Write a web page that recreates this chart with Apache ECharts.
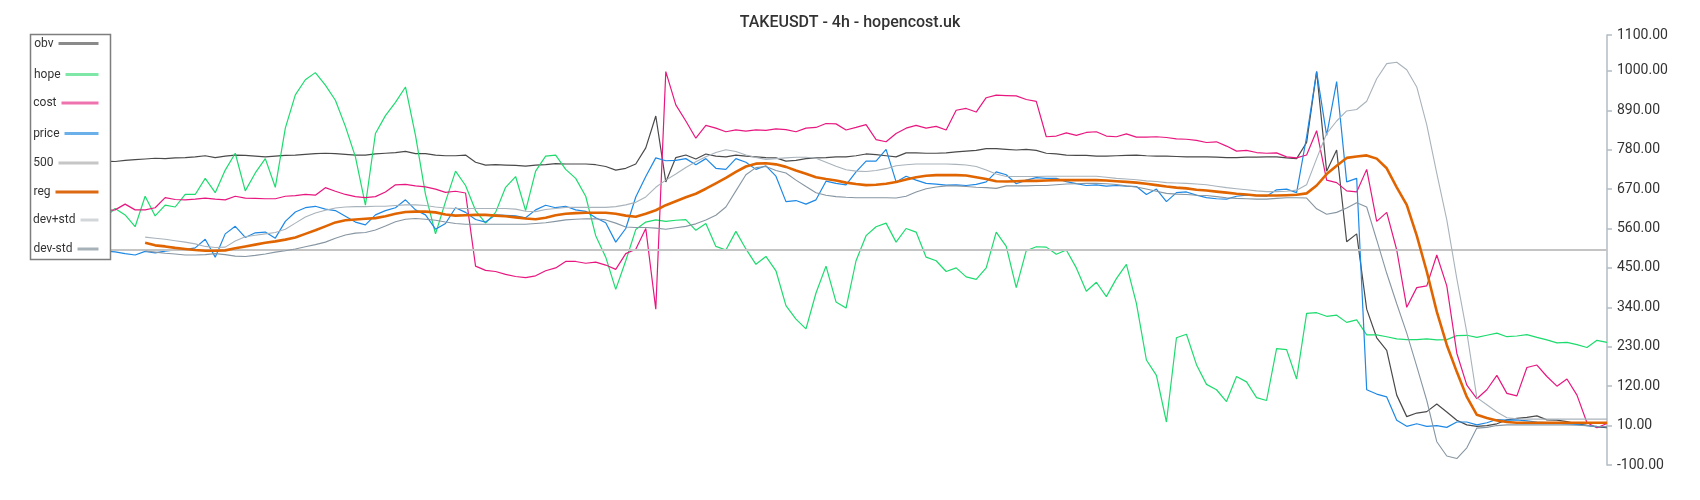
<!DOCTYPE html>
<html><head><meta charset="utf-8">
<script src="https://cdn.jsdelivr.net/npm/echarts@6/dist/echarts.min.js"></script>
<style>html,body{margin:0;padding:0;background:#fff;}#chart{width:1700px;height:500px;}</style>
</head><body><div id="chart"></div>
<script>
// ---------------- data ----------------
const chartTitle = 'TAKEUSDT - 4h - hopencost.uk';
const seriesNames = ['obv', 'hope', 'cost', 'price', '500', 'reg', 'dev+std', 'dev-std'];
const yTicks = { min: -100, max: 1100, interval: 110 };
const level500 = 500;

const obv = [745,748,744,746,750,747,745,748,
747,750,752,754,756,755,757,758,760,763,758,762,
765,764,762,760,762,764,765,767,769,770,769,767,765,765,768,770,772,775,769,769,
765,763,763,765,745,737,738,737,736,734,737,738,741,740,740,740,738,733,723,728,
740,785,874,690,758,765,754,768,762,760,765,762,760,758,757,748,750,755,757,758,
760,760,763,768,766,763,760,771,771,770,770,771,774,776,778,783,783,781,779,781,
778,770,768,765,764,764,762,762,763,764,765,763,762,762,761,760,760,760,759,758,
758,759,759,760,760,757,755,800,998,720,779,523,545,335,255,220,95,35,45,49,
70,48,25,12,8,10,15,26,30,33,37,26,25,21,15,11,6,4];

const hope = [600,590,610,605,595,620,600,590,
616,598,565,650,595,625,620,655,655,700,660,723,
770,665,715,755,675,840,933,975,995,960,918,845,760,625,825,875,912,955,820,655,
545,635,720,680,610,575,605,675,705,610,720,762,765,725,700,650,540,480,390,470,
557,578,584,580,583,585,555,574,510,500,552,503,460,482,442,345,307,280,380,455,
355,338,470,540,565,575,522,560,550,480,470,440,450,425,418,450,550,510,395,498,
509,508,488,500,450,385,410,370,420,460,351,193,150,20,255,265,180,125,110,77,
147,132,88,80,225,222,140,323,325,315,318,298,305,263,263,258,252,250,250,252,
249,250,261,262,256,262,268,258,260,264,256,249,241,242,236,228,248,242];

const cost = [605,615,600,620,610,600,615,610,
612,628,612,612,618,646,641,640,642,645,642,640,
650,645,644,643,643,650,652,655,653,674,664,655,649,646,649,662,682,683,679,676,
670,661,664,659,455,443,440,432,426,423,428,442,450,468,468,463,466,458,446,490,
502,560,335,998,905,860,812,848,840,830,835,832,835,834,838,836,830,840,842,853,
852,835,842,850,808,802,825,840,848,840,845,835,890,895,885,925,932,931,930,920,
915,816,818,827,820,828,830,818,816,824,815,815,816,814,810,809,806,800,802,790,
776,778,772,770,771,760,757,765,833,695,688,665,662,725,580,605,500,340,395,400,
486,400,212,123,85,110,150,100,93,172,179,147,120,140,95,18,4,16];

const price = [495,500,492,498,503,495,490,497,
495,490,486,496,492,497,500,501,506,530,480,545,
566,535,548,550,533,580,606,618,622,614,610,594,578,570,598,610,618,640,612,598,
558,574,618,605,585,578,598,597,595,590,612,625,618,622,612,608,590,576,522,560,
648,705,757,749,750,755,738,755,728,725,755,745,725,735,706,635,638,628,640,692,
686,682,718,748,748,781,690,706,695,686,684,681,682,680,683,690,718,710,685,695,
702,700,700,691,685,680,682,678,680,678,677,655,670,635,660,662,653,646,643,642,
650,653,652,650,668,670,660,816,998,820,970,690,700,110,98,90,25,8,15,8,
10,5,20,20,12,18,27,25,26,23,20,18,17,15,13,10,7,7];

const reg = [null,null,null,null,null,null,null,null,null,null,null,
520,513,510,506,503,500,498,498,499,
505,510,515,520,524,529,535,545,555,566,577,583,585,587,589,594,601,606,607,607,
605,599,596,597,598,598,596,594,591,588,586,590,597,601,603,604,604,604,601,596,
593,601,611,625,636,647,657,671,686,701,718,733,741,742,739,732,722,713,703,698,
694,688,684,681,682,685,690,697,703,707,709,709,709,708,703,698,692,691,692,693,
693,694,695,695,695,695,695,694,692,690,688,685,681,677,674,672,668,666,663,660,
657,655,652,652,652,653,654,658,680,712,735,757,761,764,755,728,675,626,540,440,
328,235,160,90,40,31,24,20,18,18,18,18,18,18,18,18,18,18];

const devPlus = [null,null,null,null,null,null,null,null,null,null,null,
536,533,530,526,522,517,510,507,508,
525,537,541,545,549,558,575,592,603,611,617,620,621,621,622,622,624,626,626,624,
620,617,616,616,616,616,616,616,614,608,607,613,616,619,619,619,619,619,621,626,
633,648,675,695,712,730,746,760,772,780,775,765,758,753,755,757,759,759,756,745,
734,724,720,719,722,727,735,738,740,740,740,740,739,737,733,723,712,705,705,705,
705,706,706,706,706,706,706,703,700,698,696,693,691,688,687,686,684,682,678,674,
671,668,665,663,663,664,667,682,755,825,860,888,892,915,978,1020,1024,1003,955,849,
714,584,420,270,88,68,48,32,29,28,28,28,28,28,28,28,28,28];

const devMinus = [null,null,null,null,null,null,null,null,null,null,null,
497,494,491,489,486,486,487,490,487,
483,482,485,489,494,498,503,509,515,522,533,542,547,549,556,567,579,586,588,586,
583,578,574,572,572,572,572,572,572,572,574,576,580,584,586,587,587,584,575,564,
563,563,561,558,562,566,573,584,597,620,665,710,730,733,722,715,695,677,660,653,
649,647,646,646,646,646,645,650,662,671,676,679,679,677,675,674,672,679,679,679,
680,680,682,684,685,686,686,685,683,679,676,670,664,658,656,655,653,652,649,646,
644,643,642,642,644,646,646,645,615,600,605,617,632,620,528,435,350,268,175,80,
-35,-75,-82,-52,3,5,10,12,12,12,12,12,12,12,11,10,8,7];

const categories = obv.map((_, i) => String(i + 1));
const line500 = categories.map(() => level500);

// ---------------- styling ----------------
const FONT = 'Roboto, "Noto Sans", sans-serif';
const lineColors = {
  'obv': '#4a4a4a', 'hope': '#1ddb6e', 'cost': '#e8177f', 'price': '#1e88e5',
  '500': '#c4c4c4', 'reg': '#e06500', 'dev+std': '#a9b3bb', 'dev-std': '#8796a2'
};
const lineWidths = {
  'obv': 1.2, 'hope': 1.2, 'cost': 1.2, 'price': 1.2,
  '500': 2, 'reg': 2.6, 'dev+std': 1.1, 'dev-std': 1.1
};
const legendLayout = [
  { name: 'obv',     cy: 44.5,  w: 40, color: '#8a8a8a' },
  { name: 'hope',    cy: 75.5,  w: 33, color: '#7fe8a9' },
  { name: 'cost',    cy: 104,   w: 37, color: '#ee72ae' },
  { name: 'price',   cy: 134.5, w: 34, color: '#6cb0ea' },
  { name: '500',     cy: 164,   w: 40, color: '#c6c6c6' },
  { name: 'reg',     cy: 193,   w: 43, color: '#dd6a12' },
  { name: 'dev+std', cy: 221,   w: 18, color: '#d2d6d9' },
  { name: 'dev-std', cy: 250,   w: 21, color: '#a7b1b8' }
];

const dataByName = {
  'obv': obv, 'hope': hope, 'cost': cost, 'price': price, '500': line500,
  'reg': reg, 'dev+std': devPlus, 'dev-std': devMinus
};

const series = seriesNames.map(n => ({
  name: n,
  type: 'line',
  data: dataByName[n],
  symbol: 'none',
  showSymbol: false,
  smooth: false,
  connectNulls: false,
  animation: false,
  lineStyle: { color: lineColors[n], width: lineWidths[n] },
  itemStyle: { color: lineColors[n] },
  emphasis: { disabled: true }
}));

const legends = legendLayout.map(l => ({
  data: [l.name],
  orient: 'vertical',
  right: 1600,
  top: l.cy - 7,
  padding: 0,
  align: 'right',
  itemWidth: l.w,
  itemHeight: 14,
  itemGap: 0,
  zlevel: 1,
  z: 5,
  selectedMode: false,
  textStyle: { color: '#333', fontSize: 12, fontFamily: FONT },
  lineStyle: { color: l.color, width: 3 },
  itemStyle: { opacity: 0 }
}));

const chart = echarts.init(document.getElementById('chart'), null, { renderer: 'canvas' });
chart.setOption({
  animation: false,
  backgroundColor: '#ffffff',
  title: {
    text: chartTitle,
    left: 'center',
    top: 10,
    textStyle: { fontSize: 16, fontWeight: 500, color: '#333', fontFamily: FONT }
  },
  grid: { left: 35, right: 93, top: 35, bottom: 35, containLabel: false },
  xAxis: {
    type: 'category',
    data: categories,
    boundaryGap: false,
    show: false
  },
  yAxis: {
    type: 'value',
    position: 'right',
    min: yTicks.min,
    max: yTicks.max,
    interval: yTicks.interval,
    axisLine: { show: true, lineStyle: { color: '#b3bcc3', width: 1.5 } },
    axisTick: { show: true, length: 5, lineStyle: { color: '#b3bcc3', width: 1.5 } },
    axisLabel: {
      color: '#333', fontSize: 14, fontFamily: FONT, margin: 10,
      formatter: v => v.toFixed(2)
    },
    splitLine: { show: false }
  },
  legend: legends,
  graphic: {
    zlevel: 1,
    z: 1,
    elements: [{
      type: 'rect',
      zlevel: 1,
      z: 1,
      shape: { x: 30.5, y: 34.5, width: 80, height: 225 },
      style: { fill: '#ffffff', stroke: '#7e7e7e', lineWidth: 1.5 }
    }]
  },
  series: series
});
</script>
</body></html>
